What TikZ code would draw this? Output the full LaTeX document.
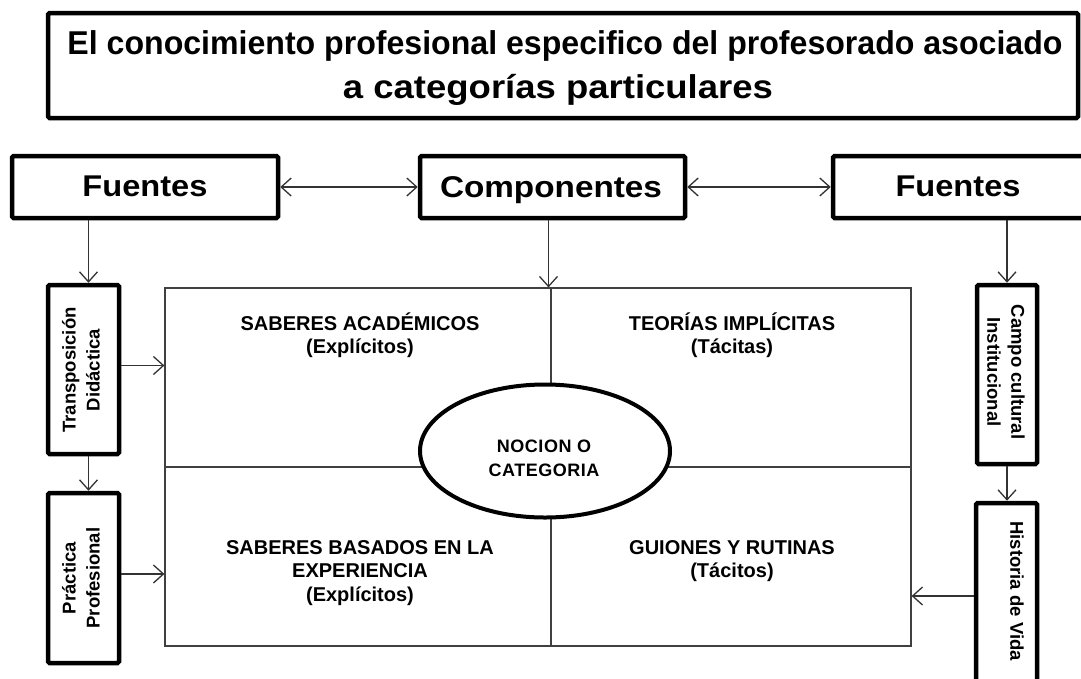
\documentclass[tikz,border=0pt]{standalone}
\usepackage{fontspec}
\usepackage{graphicx}
\setmainfont{Liberation Sans}
\newfontfamily\spacedfont[LetterSpace=3]{Liberation Sans}
\usetikzlibrary{arrows.meta,shapes.geometric}
\begin{document}
\begin{tikzpicture}[x=1pt,y=-1pt,
  bigbox/.style={draw=black,line width=4.5pt,fill=white,rounded corners=1.5pt,inner sep=0pt},
  conn/.style={draw=black!80,line width=1.3pt,-{Straight Barb[length=10pt,width=18pt]}},
  both/.style={draw=black!80,line width=1.3pt,{Straight Barb[length=10pt,width=18pt]}-{Straight Barb[length=10pt,width=18pt]}},
  cell/.style={font=\fontsize{20}{23.5}\selectfont\bfseries,align=center,inner sep=0pt},
  vtext/.style={font=\fontsize{18.5}{24}\selectfont\bfseries,align=center,inner sep=0pt},
  headtext/.style={font=\fontsize{30}{34}\selectfont\bfseries,inner sep=0pt,anchor=base},
  titletext/.style={font=\fontsize{33}{40}\selectfont\bfseries,inner sep=0pt,anchor=base}
]
\useasboundingbox (0,0) rectangle (1081,678);
\fill[white] (0,0) rectangle (1081,678);

% title
\node[bigbox,minimum width=1030,minimum height=105] (title) at (563,65.5) {};
\node[titletext] (title1) at (565,54) {\resizebox{995pt}{\height}{El conocimiento profesional especifico del profesorado asociado}};
\node[titletext] (title2) at (558,98) {\resizebox{430pt}{\height}{a categorías particulares}};

% header boxes
\node[bigbox,minimum width=266,minimum height=62] (fL) at (145,187) {};
\node[headtext] (fLt) at (145,196) {\resizebox{125pt}{\height}{Fuentes}};
\node[bigbox,minimum width=265,minimum height=62] (comp) at (552.5,187) {};
\node[headtext] (compt) at (551,197) {\resizebox{222pt}{\height}{Componentes}};
\node[bigbox,minimum width=257,minimum height=62] (fR) at (961.5,187) {};
\node[headtext] (fRt) at (958,196) {\resizebox{125pt}{\height}{Fuentes}};

% side boxes
\node[bigbox,minimum width=71,minimum height=169] (trans) at (83.5,369.5) {};
\node[vtext,rotate=90] (transt) at (81,370) {Transposición\\Didáctica};
\node[bigbox,minimum width=71,minimum height=170] (prac) at (83.5,578) {};
\node[vtext,rotate=90] (pract) at (81,578) {Práctica\\Profesional};
\node[bigbox,minimum width=60,minimum height=179] (campo) at (1007,374.5) {};
\node[vtext,rotate=-90] (campot) at (1006,372) {Campo cultural\\Institucional};
\node[bigbox,minimum width=61,minimum height=194] (hist) at (1006.5,600) {};
\node[vtext,rotate=-90] (histt) at (1017,591) {Historia de Vida};

% matrix
\node[draw=black!75,line width=1.2pt,minimum width=746,minimum height=358,inner sep=0pt] (mat) at (538,467) {};
\coordinate (vx) at (551,0);
\coordinate (hy) at (0,467);
\draw[black!75,line width=1.2pt] (mat.north -| vx) -- (mat.south -| vx);
\draw[black!75,line width=1.2pt] (mat.west |- hy) -- (mat.east |- hy);

\node[cell] (t1) at (360,335) {SABERES ACADÉMICOS\\(Explícitos)};
\node[cell] (t2) at (732,335) {TEORÍAS IMPLÍCITAS\\(Tácitas)};
\node[cell] (t3) at (360,573) {SABERES BASADOS EN LA\\EXPERIENCIA\\(Explícitos)};
\node[cell] (t4) at (732,561) {GUIONES Y RUTINAS\\(Tácitos)};

\node[ellipse,draw=black,line width=4pt,fill=white,minimum width=250,minimum height=133,inner sep=0pt] (ell) at (545,451) {};
\node[font=\spacedfont\fontsize{18}{24}\selectfont\bfseries,align=center,inner sep=0pt] (ellt) at (544,458) {NOCION O\\CATEGORIA};

% connectors
\draw[both] (fL) -- (comp);
\draw[both] (comp) -- (fR);
\draw[conn] ([xshift=5pt]trans.north |- fL.south) -- ([xshift=5pt]trans.north);
\draw[conn] ([xshift=-4pt]comp.south) -- ([xshift=-4pt]comp.south |- mat.north);
\draw[conn] (fR.south -| campo.north) -- (campo.north);
\draw[conn] ([yshift=4pt]trans.east) -- ([yshift=4pt]trans.east -| mat.west);
\draw[conn] ([xshift=5pt]prac.north |- trans.south) -- ([xshift=5pt]prac.north);
\draw[conn] ([yshift=4pt]prac.east) -- ([yshift=4pt]prac.east -| mat.west);
\draw[conn] (campo.south) -- (campo.south |- hist.north);
\coordinate (hy2) at (0,596);
\draw[conn] (hist.west |- hy2) -- (mat.east |- hy2);
\end{tikzpicture}
\end{document}
